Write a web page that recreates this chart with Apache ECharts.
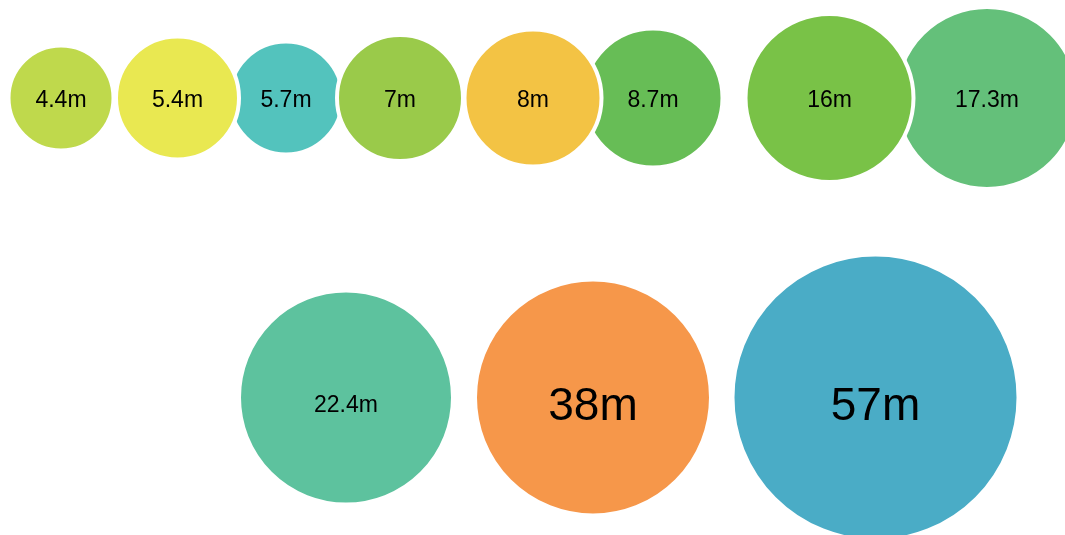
<!DOCTYPE html>
<html>
<head>
<meta charset="utf-8">
<script src="https://cdn.jsdelivr.net/npm/echarts@6/dist/echarts.min.js"></script>
<style>
    html, body { margin: 0; padding: 0; background: #fff; }
    #chart { width: 1065px; height: 535px; }
</style>
</head>
<body>
<div id="chart"></div>
<script>
// bubble values (millions), drawn in this order so the overlaps stack like the original
const amounts = [5.7, 8.7, 17.3, 4.4, 5.4, 7, 8, 16, 22.4, 38, 57];
// where each bubble sits on the hidden x / y value axes
const bubbleX = [286, 653, 987, 61, 177.5, 400, 533, 829.5, 346, 593, 875.5];
const bubbleY = [98, 98, 98, 98, 98, 98, 98, 98, 397.5, 397.5, 397.5];
// visible fill diameter of each bubble
const bubbleDiameter = [109, 135, 178, 101, 119, 122, 133, 164, 210, 232, 282];
const bubbleColors = ['#53c3bd', '#67bd56', '#64c07a', '#bfd94c', '#e9e851', '#9aca4a',
    '#f3c344', '#79c247', '#5dc29e', '#f6974a', '#4aacc6'];

const chartDom = document.getElementById('chart');
const myChart = echarts.init(chartDom, null, { renderer: 'canvas' });

const borderW = 4;

const seriesData = amounts.map((v, i) => {
    const big = v > 30;
    const lowerRow = bubbleY[i] > 300;
    // labels in the original sit a little below the bubble centre
    const dy = lowerRow ? (big ? 10 : 8) : 3;
    return {
        value: [bubbleX[i], bubbleY[i], v],
        symbolSize: bubbleDiameter[i] + borderW,
        itemStyle: { color: bubbleColors[i] },
        label: { fontSize: big ? 46 : 23, offset: [0, dy] }
    };
});

const option = {
    animation: false,
    grid: { left: 0, right: 0, top: 0, bottom: 0 },
    xAxis: {
        type: 'value',
        min: 0,
        max: 1065,
        show: false
    },
    yAxis: {
        type: 'value',
        min: 0,
        max: 535,
        inverse: true,
        show: false
    },
    series: [
        {
            type: 'scatter',
            symbol: 'circle',
            data: seriesData,
            itemStyle: {
                opacity: 1,
                borderColor: '#ffffff',
                borderWidth: borderW
            },
            label: {
                show: true,
                position: 'inside',
                color: '#000',
                fontFamily: 'Liberation Sans, Arial, sans-serif',
                formatter: (p) => p.value[2] + 'm'
            },
            emphasis: { disabled: true }
        }
    ]
};

myChart.setOption(option);
</script>
</body>
</html>
